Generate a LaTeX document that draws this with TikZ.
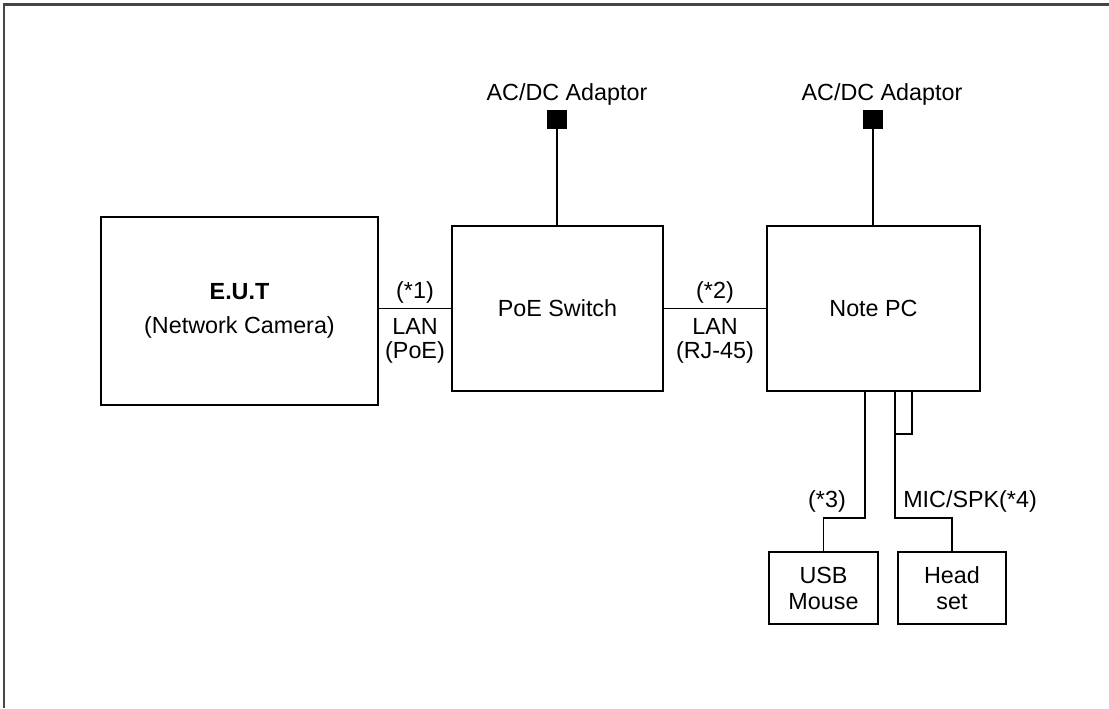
\documentclass[tikz,border=0pt]{standalone}
\usepackage{fontspec}
\setmainfont{Liberation Sans}
\begin{document}
\begin{tikzpicture}[x=0.75pt,y=-0.75pt,
  every node/.style={font=\fontsize{17.5}{21}\selectfont, inner sep=0pt},
  box/.style={draw, line width=1.2pt, rectangle, align=center},
  plug/.style={draw, fill=black, rectangle, minimum width=14pt, minimum height=13.5pt},
  wire/.style={line width=1.2pt},
  frame/.style={line width=1.6pt, draw={rgb,255:red,70;green,70;blue,70}},
  tag/.style={align=center, font=\fontsize{17.5}{17.5}\selectfont}]
\useasboundingbox (0,0) rectangle (1109,708);
\draw[frame] (4,708) -- (4,4.5) -- (1109,4.5);

% main boxes
\node[box, minimum width=207.75pt, minimum height=141pt] (eut) at (239.5,311)
  {\textbf{E.U.T}\\[4pt](Network Camera)};
\node[box, minimum width=158.25pt, minimum height=123.75pt] (poe) at (557.5,308.5) {PoE Switch};
\node[box, minimum width=159.75pt, minimum height=123.75pt] (pc) at (873.5,308.5) {Note PC};
\node[box, minimum width=81.75pt, minimum height=54pt, font=\fontsize{17.5}{19.5}\selectfont] (usb) at (823.5,588) {USB\\Mouse};
\node[box, minimum width=81pt, minimum height=54pt, font=\fontsize{17.5}{19.5}\selectfont] (head) at (952,588) {Head\\set};

% adaptors
\node[plug] (adp1) at (557,119) {};
\node[plug] (adp2) at (873,119) {};
\node (adt1) at (567,94) {AC/DC Adaptor};
\node (adt2) at (882,94) {AC/DC Adaptor};
\draw[wire] (adp1.south) -- (adp1.south |- poe.north);
\draw[wire] (adp2.south) -- (adp2.south |- pc.north);

% LAN links
\draw[wire] (poe.west) -- (poe.west -| eut.east);
\draw[wire] (poe.east) -- (pc.west);
\node (l1a) at (415,292) {(*1)};
\node[tag] (l1b) at (415,341) {LAN\\(PoE)};
\node (l2a) at (715,292) {(*2)};
\node[tag] (l2b) at (715,341) {LAN\\(RJ-45)};

% USB mouse and headset
\draw[wire] (pc.south west) ++(99,0) -- ++(0,126) -| (usb.north);
\draw[wire] (pc.south west) ++(129,0) -- ++(0,126) -| (head.north);
\draw[wire] (pc.south west) ++(146,0) |- ++(-17,42);
\node (l3) at (827,501) {(*3)};
\node[anchor=west] (l4) at (903,501) {MIC/SPK(*4)};
\end{tikzpicture}
\end{document}
